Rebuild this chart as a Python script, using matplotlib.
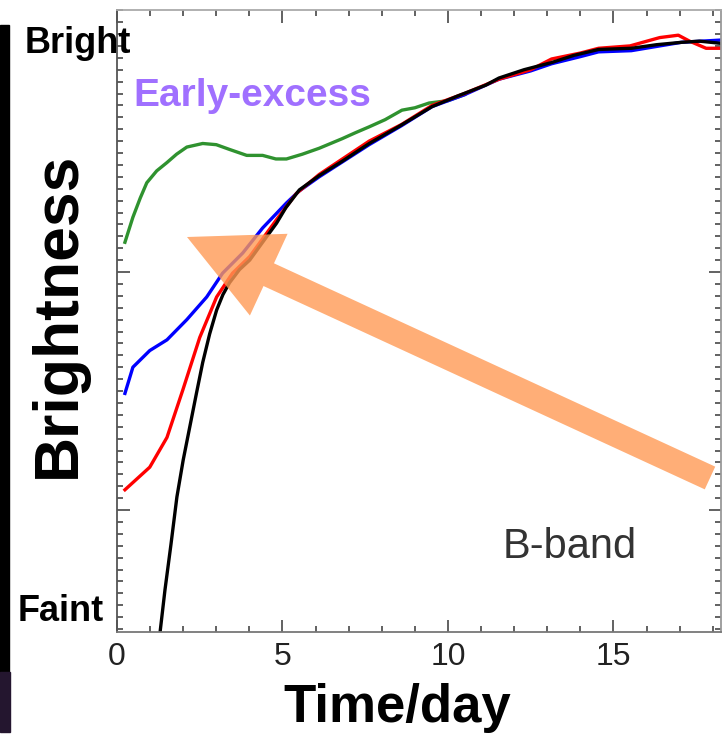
import numpy as np
import matplotlib
matplotlib.use('Agg')
import matplotlib.pyplot as plt
from matplotlib.patches import Polygon, Rectangle
from matplotlib.ticker import MultipleLocator

# Light curves: days since explosion vs. magnitude below peak (bigger = fainter)
t_green = [0.24, 0.48, 0.70, 0.90, 1.20, 1.51, 1.80, 2.11, 2.59, 3.00, 3.40, 3.92,
           4.40, 4.80, 5.12, 5.60, 6.11, 6.80, 7.20, 7.62, 8.10, 8.61, 9.00, 9.43,
           10.0, 10.5]
v_green = [1.75, 1.54, 1.38, 1.25, 1.15, 1.08, 1.01, 0.95, 0.92, 0.93, 0.97, 1.02,
           1.02, 1.05, 1.05, 1.01, 0.96, 0.88, 0.83, 0.78, 0.72, 0.64, 0.62, 0.58,
           0.56, 0.51]

t_blue = [0.24, 0.48, 0.99, 1.51, 2.11, 2.71, 3.19, 3.80, 4.40, 5.12, 5.50, 6.11,
          7.62, 8.60, 9.52, 10.5, 11.54, 12.5, 13.13, 14.0, 14.55, 15.54, 16.4,
          17.05, 18.3]
v_blue = [3.02, 2.80, 2.66, 2.57, 2.40, 2.21, 2.01, 1.84, 1.63, 1.42, 1.32, 1.20,
          0.93, 0.77, 0.61, 0.51, 0.38, 0.31, 0.25, 0.19, 0.15, 0.14, 0.10,
          0.07, 0.05]

t_red = [0.24, 0.99, 1.51, 1.99, 2.50, 3.01, 3.49, 4.01, 4.82, 5.42, 6.11, 7.62,
         8.60, 9.52, 10.5, 11.54, 12.5, 13.13, 14.0, 14.55, 15.5, 16.4, 16.96,
         17.3, 17.8, 18.3]
v_red = [3.83, 3.64, 3.39, 2.99, 2.55, 2.21, 2.01, 1.87, 1.56, 1.34, 1.18, 0.90,
         0.76, 0.60, 0.50, 0.38, 0.30, 0.21, 0.16, 0.12, 0.10, 0.03, 0.01,
         0.06, 0.12, 0.12]

t_black = [1.17, 1.30, 1.45, 1.63, 1.81, 2.00, 2.20, 2.40, 2.59, 2.80, 3.01, 3.20,
           3.40, 3.70, 4.01, 4.40, 4.82, 5.10, 5.51, 6.11, 6.80, 7.62, 8.50, 9.52,
           10.3, 11.14, 11.54, 12.3, 13.13, 13.8, 14.55, 15.54, 16.3, 17.05,
           17.6, 18.3]
v_black = [5.30, 5.03, 4.67, 4.29, 3.89, 3.58, 3.30, 3.02, 2.76, 2.52, 2.32, 2.19,
           2.09, 1.98, 1.90, 1.75, 1.59, 1.46, 1.31, 1.19, 1.07, 0.92, 0.78, 0.61,
           0.52, 0.43, 0.37, 0.30, 0.24, 0.18, 0.13, 0.12, 0.09, 0.07,
           0.06, 0.08]

x_ticks = [0, 5, 10, 15]

W, H = 725, 738
fig = plt.figure(figsize=(W / 100, H / 100), dpi=100)
ax = fig.add_axes([117 / W, 1 - 632 / H, 604 / W, 622 / H])

lw = 2.4
ax.plot(t_green, v_green, color='#2f922f', lw=lw)
ax.plot(t_blue, v_blue, color='#0000ff', lw=lw)
ax.plot(t_red, v_red, color='#ff0000', lw=lw)
ax.plot(t_black, v_black, color='black', lw=lw)

ax.set_xlim(0, 18.25)
ax.set_ylim(5.025, -0.2017)

ax.set_xticks(x_ticks)
ax.xaxis.set_minor_locator(MultipleLocator(1))
ax.set_yticks([2, 4])
ax.yaxis.set_minor_locator(MultipleLocator(0.1))
ax.tick_params(which='both', direction='in', top=True, right=True,
               color='#555', width=1.3, labelleft=False)
ax.tick_params(which='major', length=9)
ax.tick_params(which='minor', length=4.5)
ax.tick_params(axis='x', pad=7, labelsize=23, labelcolor='#222')
for lab in ax.get_xticklabels():
    lab.set_family(['Liberation Sans', 'DejaVu Sans'])

for side, col in [('left', '#555'), ('bottom', '#777'), ('top', '#aaa'), ('right', '#999')]:
    ax.spines[side].set_color(col)
    ax.spines[side].set_linewidth(1.3)

# dark strip on the left edge
fig.patches.append(Rectangle((0, 1 - 672 / H), 9 / W, 647 / H,
                             transform=fig.transFigure, color='black', zorder=0))
fig.patches.append(Rectangle((0, 6 / H), 10 / W, 60 / H,
                             transform=fig.transFigure, color='#24162f', zorder=0))

# big orange arrow pointing at the early part of the curves
tip = np.array([187.0, 237.0])
tail = np.array([710.0, 478.0])
u = (tip - tail) / np.hypot(*(tip - tail))
n = np.array([-u[1], u[0]])
head_len, head_half, shaft_half = 90, 45, 12.5
base = tip - u * head_len
pts = [tail + n * shaft_half, base + n * shaft_half, base + n * head_half, tip,
       base - n * head_half, base - n * shaft_half, tail - n * shaft_half]
pts = [(p[0] / W, 1 - p[1] / H) for p in pts]
fig.patches.append(Polygon(pts, closed=True, transform=fig.transFigure,
                           facecolor='#ff9a55', edgecolor='none', alpha=0.8, zorder=5))

bold = dict(family=['Liberation Sans', 'DejaVu Sans'], weight='bold')
fig.text(25 / W, 1 - 53 / H, 'Bright', fontsize=26, ha='left', va='baseline', **bold)
fig.text(18 / W, 1 - 621 / H, 'Faint', fontsize=26, ha='left', va='baseline', **bold)
fig.text(58 / W, 1 - 315 / H, 'Brightness', fontsize=45, rotation=90,
         ha='center', va='center', **bold)
fig.text(397 / W, 1 - 722 / H, 'Time/day', fontsize=38, ha='center', va='baseline', **bold)
fig.text(133 / W, 1 - 106 / H, 'Early-excess', fontsize=28, color='#a070ff',
         ha='left', va='baseline', **bold)
fig.text(503 / W, 1 - 558 / H, 'B-band', fontsize=30, color='#333',
         family=['Liberation Sans', 'DejaVu Sans'], ha='left', va='baseline')

fig.savefig('out.png', dpi=100)
